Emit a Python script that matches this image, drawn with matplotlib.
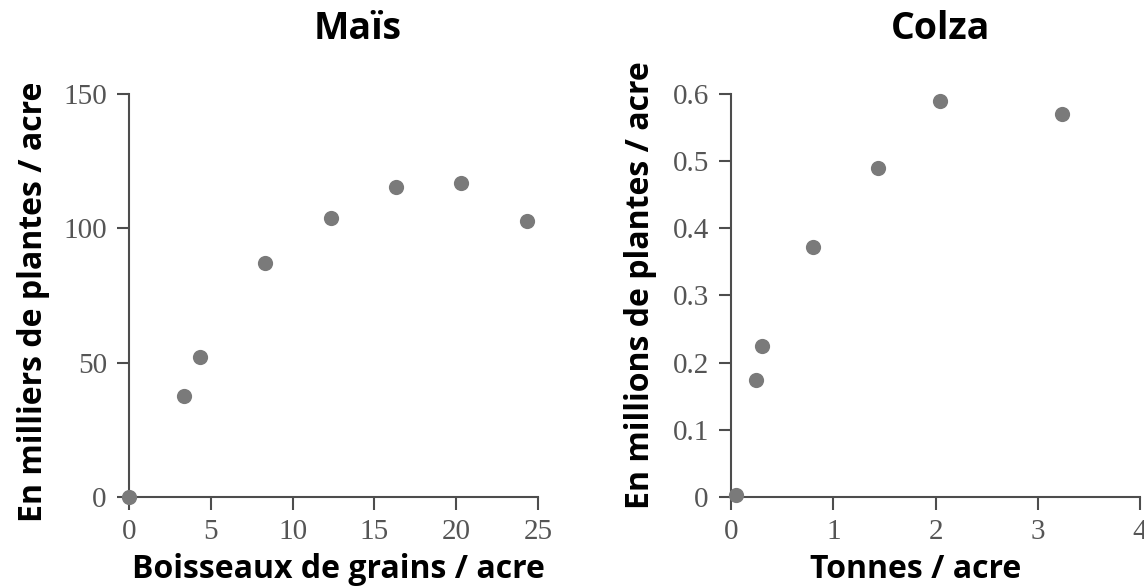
import matplotlib.pyplot as plt

# Maïs
mais_x = [0, 3.35, 4.35, 8.3, 12.35, 16.3, 20.3, 24.3]
mais_y = [0, 37.6, 52.2, 87.1, 103.8, 115.4, 116.9, 102.7]

# Colza
colza_x = [0.05, 0.245, 0.30, 0.80, 1.44, 2.04, 3.24]
colza_y = [0.003, 0.174, 0.225, 0.372, 0.49, 0.589, 0.570]

mais_xticks = [0, 5, 10, 15, 20, 25]
mais_yticks = [0, 50, 100, 150]
colza_xticks = [0, 1, 2, 3, 4]
colza_yticks = [0, 0.1, 0.2, 0.3, 0.4, 0.5, 0.6]
colza_yticklabels = ['0', '0.1', '0.2', '0.3', '0.4', '0.5', '0.6']

spine_col = '#4d4d4d'
dot_col = '#7a7a7a'
tick_font = 'Liberation Serif'
label_font = 'Open Sans'

fig = plt.figure(figsize=(11.44, 5.86), dpi=100)
ax1 = fig.add_axes([0.1128, 0.1519, 0.3575, 0.6877])
ax2 = fig.add_axes([0.639, 0.1519, 0.3575, 0.6877])


def style(ax):
    for s in ['top', 'right']:
        ax.spines[s].set_visible(False)
    for s in ['left', 'bottom']:
        ax.spines[s].set_color(spine_col)
        ax.spines[s].set_linewidth(1.5)
    ax.tick_params(direction='out', length=9, width=1.5, color=spine_col,
                   labelcolor='#555555', labelsize=21, pad=7)
    for lab in ax.get_xticklabels() + ax.get_yticklabels():
        lab.set_fontfamily(tick_font)


ax1.scatter(mais_x, mais_y, s=120, color=dot_col, zorder=3, clip_on=False, linewidths=0)
ax1.set_xlim(0, 25)
ax1.set_ylim(0, 150)
ax1.set_xticks(mais_xticks)
ax1.set_yticks(mais_yticks)
style(ax1)
ax1.set_xlabel('Boisseaux de grains / acre', fontsize=23, fontweight='bold', family=label_font)
ax1.set_ylabel('En milliers de plantes / acre', fontsize=23, fontweight='bold', family=label_font)
ax1.xaxis.set_label_coords(0.511, -0.14)
ax1.yaxis.set_label_coords(-0.193, 0.484)

ax2.scatter(colza_x, colza_y, s=120, color=dot_col, zorder=3, clip_on=False, linewidths=0)
ax2.set_xlim(0, 4)
ax2.set_ylim(0, 0.6)
ax2.set_xticks(colza_xticks)
ax2.set_yticks(colza_yticks)
ax2.set_yticklabels(colza_yticklabels)
style(ax2)
ax2.set_xlabel('Tonnes / acre', fontsize=23, fontweight='bold', family=label_font)
ax2.set_ylabel('En millions de plantes / acre', fontsize=23, fontweight='bold', family=label_font)
ax2.xaxis.set_label_coords(0.452, -0.14)
ax2.yaxis.set_label_coords(-0.181, 0.526)

fig.text(0.313, 0.95, 'Maïs', ha='center', va='center', fontsize=27,
         fontweight='bold', family=label_font)
fig.text(0.8225, 0.95, 'Colza', ha='center', va='center', fontsize=27,
         fontweight='bold', family=label_font)

fig.savefig('out.png', dpi=100, facecolor='white')
